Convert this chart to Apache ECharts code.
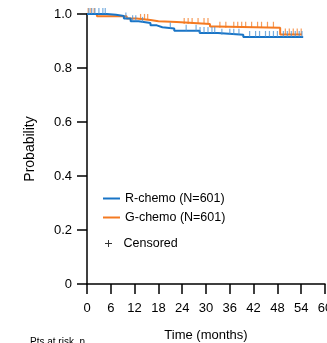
<!DOCTYPE html>
<html>
<head>
<meta charset="utf-8">
<script src="https://cdn.jsdelivr.net/npm/echarts@6/dist/echarts.min.js"></script>
<style>
html,body{margin:0;padding:0;background:#fff;overflow:hidden;}
#chart{width:327px;height:343px;}
</style>
</head>
<body>
<div id="chart"></div>
<script>
// ---- data ----
var xTicks = [0, 6, 12, 18, 24, 30, 36, 42, 48, 54, 60];
var yTicks = [0, 0.2, 0.4, 0.6, 0.8, 1.0];
var rName = 'R-chemo (N=601)';
var gName = 'G-chemo (N=601)';
var censName = 'Censored';
// Kaplan-Meier steps: event times (months) and survival after each step
var rTimes = [0, 5, 7.3, 9.3, 11, 13, 16, 17.6, 19, 22, 28.4, 33, 39.4];
var rSurv  = [1.0, 0.997, 0.993, 0.983, 0.973, 0.967, 0.958, 0.951, 0.946, 0.938, 0.930, 0.923, 0.915];
var rEnd = 54.5;
var gTimes = [0, 2.5, 10, 12.5, 16, 18, 22.6, 31, 32.6, 48.7];
var gSurv  = [1.0, 0.992, 0.983, 0.978, 0.973, 0.970, 0.963, 0.954, 0.949, 0.924];
var gEnd = 54.2;
// censoring times (months)
var rCens = [0.5, 1.2, 2, 3, 4, 4.6, 9.8, 11.5, 12.3, 14, 21, 25, 27.5, 28.5, 29.5, 30.5, 31.5, 32.2, 34, 36, 37, 38.3, 41, 42.5, 43.5, 45, 46, 47, 48, 49.5, 50.5, 51.5, 52.5, 53.5, 54.2];
var gCens = [0.3, 1, 1.8, 13.5, 14.5, 15.3, 24.5, 25.5, 26.5, 28, 29.5, 30.5, 33.5, 35, 37, 38, 39, 40, 41.5, 43, 44, 45.5, 47, 50, 51, 52, 53, 54];

var blue = '#1874c6';
var orange = '#f47a22';
var FONT = '"Liberation Sans", Arial, Helvetica, sans-serif';

function stepData(times, surv, end) {
  var d = times.map(function (t, i) { return [t, surv[i]]; });
  d.push([end, surv[surv.length - 1]]);
  return d;
}
function survAt(times, surv, t) {
  var s = surv[0];
  for (var i = 0; i < times.length; i++) { if (times[i] <= t) s = surv[i]; }
  return s;
}
function censData(cens, times, surv) {
  return cens.map(function (t) { return [t, survAt(times, surv, t)]; });
}

var chart = echarts.init(document.getElementById('chart'), null, {renderer: 'canvas'});
var lineIcon = 'path://M0,0H17V2H0Z';
var plusIcon = 'path://M3,0H4V3H7V4H4V7H3V4H0V3H3Z';

chart.setOption({
  animation: false,
  backgroundColor: '#fff',
  textStyle: {fontFamily: FONT},
  grid: {left: 87, right: 2, top: 14, bottom: 59, containLabel: false, outerBoundsMode: 'none'},
  legend: [{
    data: [{name: rName, icon: lineIcon}, {name: gName, icon: lineIcon}],
    orient: 'vertical', left: 103, top: 192, padding: 0,
    itemWidth: 17, itemHeight: 14, itemGap: 6,
    selectedMode: false,
    textStyle: {fontSize: 12.5, color: '#000', fontFamily: FONT}
  }, {
    data: [{name: censName, icon: plusIcon}],
    orient: 'vertical', left: 105, top: 237, padding: 0,
    itemWidth: 20, itemHeight: 7,
    selectedMode: false,
    textStyle: {fontSize: 12.5, color: '#000', fontFamily: FONT}
  }],
  xAxis: {
    type: 'value', min: 0, max: 60, interval: 6,
    name: 'Time (months)', nameLocation: 'middle', nameGap: 45,
    nameTextStyle: {fontSize: 13, color: '#000', fontFamily: FONT},
    axisLine: {show: true, onZero: false, lineStyle: {color: '#000', width: 1.5}},
    axisTick: {show: true, length: 10, inside: false, lineStyle: {color: '#000', width: 1.5}},
    axisLabel: {margin: 18, fontSize: 13, color: '#000', fontFamily: FONT, hideOverlap: false,
      formatter: function (v) { return xTicks.indexOf(v) >= 0 ? String(v) : ''; }},
    splitLine: {show: false}
  },
  yAxis: {
    type: 'value', min: 0, max: 1, interval: 0.2,
    name: 'Probability', nameLocation: 'middle', nameGap: 50, nameRotate: 90,
    nameTextStyle: {fontSize: 14, color: '#000', fontFamily: FONT},
    axisLine: {show: true, onZero: false, lineStyle: {color: '#000', width: 1.5}},
    axisTick: {show: true, length: 10, inside: false, lineStyle: {color: '#000', width: 1.5}},
    axisLabel: {margin: 15, fontSize: 13, color: '#000', fontFamily: FONT,
      formatter: function (v) {
        var k = yTicks.indexOf(Math.round(v * 10) / 10);
        if (k < 0) return '';
        return v === 0 ? '0' : v.toFixed(1);
      }},
    splitLine: {show: false}
  },
  graphic: [{
    type: 'text', left: 30, top: 337,
    style: {text: 'Pts at risk, n', fontSize: 10, fill: '#000', fontFamily: FONT}
  }],
  series: [{
    name: gName, type: 'line', step: 'end', symbol: 'none',
    data: stepData(gTimes, gSurv, gEnd),
    itemStyle: {color: orange},
    lineStyle: {color: orange, width: 2}, z: 2
  }, {
    name: gName + ' censored', type: 'scatter', symbol: 'rect', symbolSize: [1.2, 6], symbolOffset: [0, -3],
    data: censData(gCens, gTimes, gSurv),
    itemStyle: {color: orange, opacity: 0.75}, z: 3
  }, {
    name: rName, type: 'line', step: 'end', symbol: 'none',
    data: stepData(rTimes, rSurv, rEnd),
    itemStyle: {color: blue},
    lineStyle: {color: blue, width: 2}, z: 4
  }, {
    name: rName + ' censored', type: 'scatter', symbol: 'rect', symbolSize: [1.2, 6], symbolOffset: [0, -3],
    data: censData(rCens, rTimes, rSurv),
    itemStyle: {color: '#4a92d4', opacity: 0.75}, z: 5
  }, {
    name: censName, type: 'scatter', data: [],
    itemStyle: {color: '#000'}
  }]
});
</script>
</body>
</html>
